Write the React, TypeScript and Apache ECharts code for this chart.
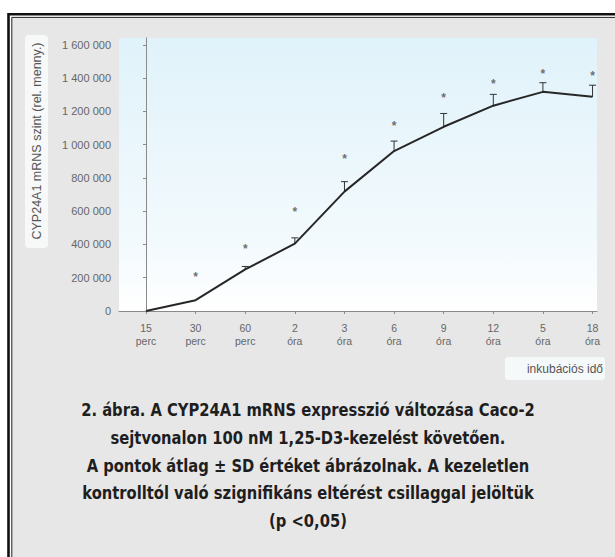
import React, { useEffect, useRef } from "react";
import * as echarts from "echarts";

const categories = ["15\nperc", "30\nperc", "60\nperc", "2\nóra", "3\nóra", "6\nóra", "9\nóra", "12\nóra", "5\nóra", "18\nóra"];
const meanValues = [0, 65000, 250000, 405000, 718000, 962000, 1108000, 1235000, 1318000, 1288000];
const sdValues = [0, 0, 18000, 35000, 60000, 60000, 80000, 68000, 55000, 70000];
const starValues: (number | null)[] = [null, 222000, 393000, 614000, 930000, 1129000, 1299000, 1385000, 1444000, 1430000];
const yTicks = [0, 200000, 400000, 600000, 800000, 1000000, 1200000, 1400000, 1600000];
const yTitle = "CYP24A1 mRNS szint (rel. menny.)";
const xTitle = "inkubációs idő";
const captionLines = [
  "2. ábra. A CYP24A1 mRNS expresszió változása Caco-2",
  "sejtvonalon 100 nM 1,25-D3-kezelést követően.",
  "A pontok átlag ± SD értéket ábrázolnak. A kezeletlen",
  "kontrolltól való szignifikáns eltérést csillaggal jelöltük",
  "(p <0,05)",
];

const fmt = (v: number) => String(v).replace(/\B(?=(\d{3})+(?!\d))/g, " ");

export default function App() {
  const ref = useRef<HTMLDivElement>(null);
  useEffect(() => {
    document.body.style.margin = "0";
    const chart = echarts.init(ref.current!, null, { renderer: "svg" });
    const idx = categories.map((_, i) => i);
    const option: any = {
      animation: false,
      backgroundColor: "#ffffff",
      grid: {
        left: 119,
        right: 18,
        top: 38,
        bottom: 246,
        show: true,
        borderWidth: 0,
        backgroundColor: new echarts.graphic.LinearGradient(0, 0, 0, 1, [
          { offset: 0, color: "#e0f2fa" },
          { offset: 0.75, color: "#f3fafd" },
          { offset: 1, color: "#ffffff" },
        ]),
      },
      xAxis: {
        type: "value",
        min: -0.544,
        max: 9.09,
        splitLine: { show: false },
        axisLine: { show: true, lineStyle: { color: "#8a8a8a", width: 1 } },
        axisTick: { show: true, length: 3, customValues: idx, lineStyle: { color: "#8a8a8a" } },
        axisLabel: {
          customValues: idx,
          formatter: (v: number) => categories[Math.round(v)] ?? "",
          fontFamily: "Liberation Sans, Arial, sans-serif",
          fontSize: 10.5,
          lineHeight: 12.5,
          color: "#666",
          margin: 11,
        },
      },
      yAxis: {
        type: "value",
        min: 0,
        max: 1642000,
        splitLine: { show: false },
        axisLine: { show: true, lineStyle: { color: "#8a8a8a", width: 1 } },
        axisTick: { show: true, length: 3, customValues: yTicks, lineStyle: { color: "#8a8a8a" } },
        axisLabel: {
          customValues: yTicks,
          formatter: (v: number) => fmt(v),
          fontFamily: "Liberation Sans, Arial, sans-serif",
          fontSize: 11,
          color: "#666",
          margin: 8,
        },
      },
      series: [
        {
          type: "line",
          data: meanValues.map((v, i) => [i, v]),
          symbol: "none",
          lineStyle: { color: "#262626", width: 2 },
          z: 3,
        },
        {
          type: "custom",
          data: meanValues.map((v, i) => [i, v, v + sdValues[i]]),
          renderItem: (params: any, api: any) => {
            const i = api.value(0);
            const lo = api.coord([i, api.value(1)]);
            const hi = api.coord([i, api.value(2)]);
            if (api.value(2) <= api.value(1)) return { type: "group", children: [] };
            const style = { stroke: "#333", lineWidth: 1 };
            return {
              type: "group",
              children: [
                { type: "line", shape: { x1: lo[0], y1: lo[1], x2: hi[0], y2: hi[1] }, style },
                { type: "line", shape: { x1: hi[0] - 3.5, y1: hi[1], x2: hi[0] + 3.5, y2: hi[1] }, style },
              ],
            };
          },
          z: 2,
        },
        {
          type: "scatter",
          data: starValues.map((v, i) => (v === null ? null : [i, v])).filter((d) => d !== null),
          symbolSize: 0,
          label: {
            show: true,
            position: "inside",
            formatter: "*",
            fontFamily: "Liberation Sans, Arial, sans-serif",
            fontSize: 12,
            fontWeight: "bold",
            color: "#4a4a4a",
            offset: [0, 3],
          },
        },
      ],
      graphic: [
        {
          type: "rect",
          z: -10,
          shape: { x: 8.5, y: 14.2, width: 700, height: 700 },
          style: { fill: "#ffffff", stroke: "#111", lineWidth: 2.6 },
        },
        {
          type: "rect",
          z: -9,
          shape: { x: 11.8, y: 17.4, width: 700, height: 700 },
          style: { fill: "#e7e7e7", stroke: "#222", lineWidth: 1 },
        },
        {
          type: "rect",
          z: -8,
          shape: { x: 25, y: 35, width: 23, height: 213, r: 4 },
          style: { fill: "#f7f8f8" },
        },
        {
          type: "text",
          z: 5,
          x: 37,
          y: 141,
          rotation: Math.PI / 2,
          style: {
            text: yTitle,
            fontFamily: "Liberation Sans, Arial, sans-serif",
            fontSize: 12.5,
            fill: "#555",
            align: "center",
            verticalAlign: "middle",
          },
        },
        {
          type: "rect",
          z: -8,
          shape: { x: 505, y: 357, width: 100, height: 23, r: 3 },
          style: { fill: "#f6f9fa" },
        },
        {
          type: "text",
          z: 5,
          x: 603,
          y: 369,
          style: {
            text: xTitle,
            fontFamily: "Liberation Sans, Arial, sans-serif",
            fontSize: 12,
            fill: "#555",
            align: "right",
            verticalAlign: "middle",
          },
        },
        {
          type: "text",
          z: 5,
          x: 308,
          y: 396,
          scaleX: 0.91,
          style: {
            text: captionLines.join("\n"),
            fontFamily: "'Liberation Sans Narrow', 'DejaVu Sans Condensed', sans-serif",
            fontSize: 18,
            fontWeight: "bold",
            lineHeight: 27.7,
            fill: "#1e1e1e",
            align: "center",
            verticalAlign: "top",
          },
        },
      ],
    };
    chart.setOption(option);
    return () => chart.dispose();
  }, []);
  return <div ref={ref} style={{ width: 615, height: 557 }} />;
}
